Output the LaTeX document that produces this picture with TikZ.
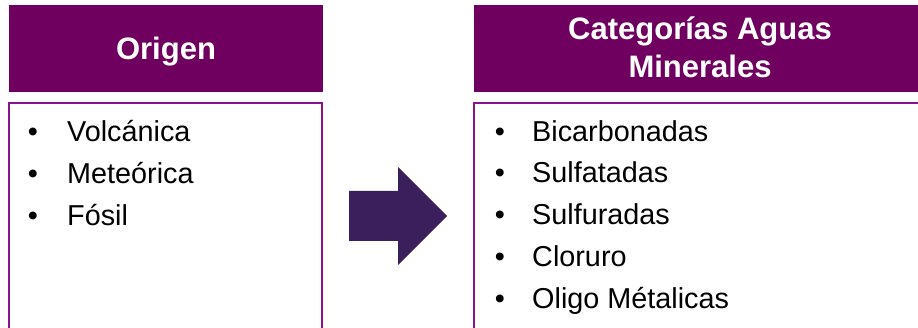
\documentclass[tikz,border=0pt]{standalone}
\usepackage{fontspec}
\setmainfont{Liberation Sans}
\definecolor{hdr}{RGB}{112,0,96}
\definecolor{bord}{RGB}{138,20,138}
\definecolor{arrowc}{RGB}{59,31,92}
\begin{document}
\begin{tikzpicture}[x=1pt,y=-1pt,
  hdrbox/.style={fill=hdr,draw=none},
  listbox/.style={draw=bord,line width=2pt},
  hdrtext/.style={text=white,font=\fontsize{31}{38}\selectfont\bfseries,align=center,inner sep=0pt},
  item/.style={anchor=base west,inner sep=0pt,font=\fontsize{28.8}{34}\selectfont},
  bul/.style={anchor=base,inner sep=0pt,font=\fontsize{28.8}{34}\selectfont}]
\useasboundingbox (0,0) rectangle (918,328);
% headers
\path[hdrbox] (9,5) rectangle (323,92);
\path[hdrbox] (474,5) rectangle (930,92);
\node[hdrtext,anchor=base] (h1) at (166,60) {Origen};
\node[hdrtext,anchor=base] (h2) at (700,40) {Categorías Aguas};
\node[hdrtext,anchor=base] (h3) at (700,78) {Minerales};
% boxes
\draw[listbox] (9.3,340) -- (9.3,103) -- (322,103) -- (322,340);
\draw[listbox] (473.5,340) -- (473.5,103) -- (930,103);
% left list
\foreach \t/\y [count=\i] in {Volcánica/142,Meteórica/184,Fósil/226}{
  \node[bul] (lb\i) at (33,\y) {\textbullet};
  \node[item] (li\i) at (67,\y) {\t};
}
% right list
\foreach \t/\y [count=\i] in {Bicarbonadas/142,Sulfatadas/183,Sulfuradas/225,Cloruro/267,Oligo Métalicas/309}{
  \node[bul] (rb\i) at (500,\y) {\textbullet};
  \node[item] (ri\i) at (532,\y) {\t};
}
% arrow
\fill[arrowc] (349,191) -- (398,191) -- (398,167) -- (447,216) -- (398,265) -- (398,241) -- (349,241) -- cycle;
\end{tikzpicture}
\end{document}
